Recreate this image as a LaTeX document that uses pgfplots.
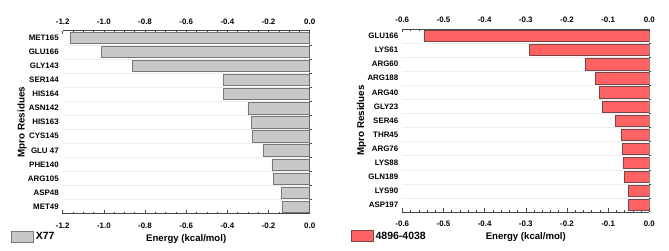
\documentclass[border=0pt]{standalone}
\usepackage{fontspec}
\setmainfont{Liberation Sans}
\usepackage{pgfplots}
\pgfplotsset{compat=1.18}
\definecolor{graybar}{RGB}{200,200,200}
\definecolor{grayedge}{RGB}{120,120,120}
\definecolor{redbar}{RGB}{255,98,98}
\definecolor{rededge}{RGB}{120,70,70}
\definecolor{axcol}{RGB}{70,70,70}
\pgfplotsset{
  panel/.style={
    scale only axis, width=247pt, height=183pt,
    xbar, bar width=0.8, bar shift=0pt,
    y dir=reverse, ymin=0.5, ymax=13.5,
    ytick={1,...,13},
    separate axis lines,
    x axis line style={axcol, line width=0.7pt},
    y axis line style={draw=none},
    xtick align=inside,
    xtick pos=both,
    xticklabel pos=lower,
    ytick pos=right,
    yticklabel pos=left,
    ytick align=outside,
    major y tick style={draw=none},
    minor ytick={1.5,2.5,...,12.5},
    minor y tick style={axcol, line width=0.5pt},
    minor y grid style={black!7},
    yminorgrids=true,
    x tick style={axcol, line width=0.5pt},
    major tick length=3.5pt, minor tick length=2pt,
    tick label style={font=\bfseries\fontsize{7.9}{9}\selectfont},
    xticklabel style={yshift=-5.5pt, /pgf/number format/fixed, /pgf/number format/fixed zerofill, /pgf/number format/precision=1},
    yticklabel style={xshift=3pt},
    /pgf/number format/assume math mode=true,
    xlabel style={at={(axis description cs:0.5,-0.138)}, anchor=center, font=\bfseries\fontsize{9.6}{11}\selectfont},
    ylabel style={at={(axis description cs:-0.1644,0.5)}, anchor=center, font=\bfseries\fontsize{9.8}{11}\selectfont},
    xlabel={Energy (kcal/mol)},
    ylabel={Mpro Residues},
    legend style={draw=none, fill=none, inner sep=0pt, anchor=west, font=\bfseries\fontsize{10.5}{12}\selectfont},
  },
  toplabels/.style={
    scale only axis, width=247pt, height=183pt,
    ymin=0, ymax=1, hide y axis,
    axis x line*=top,
    axis line style={draw=none},
    xtick style={draw=none},
    tick label style={font=\bfseries\fontsize{7.9}{9}\selectfont},
    xticklabel style={yshift=2.5pt, /pgf/number format/fixed, /pgf/number format/fixed zerofill, /pgf/number format/precision=1},
    /pgf/number format/assume math mode=true,
  }
}
\begin{document}
\begin{tikzpicture}
\useasboundingbox (0,0) rectangle (669pt,251pt);
% ---------- left panel ----------
\begin{axis}[panel,
  at={(62.7pt,37.3pt)}, anchor=south west,
  xmin=-1.2, xmax=0,
  xtick={-1.2,-1,-0.8,-0.6,-0.4,-0.2,0},
  minor x tick num=3,
  yticklabels={MET165,GLU166,GLY143,SER144,HIS164,ASN142,HIS163,CYS145,GLU 47,PHE140,ARG105,ASP48,MET49},
  legend style={at={(axis description cs:-0.209,-0.1246)}},
]
\addplot[fill=graybar, draw=grayedge, line width=0.5pt,
  legend image code/.code={\draw[fill=graybar, draw=grayedge, line width=0.5pt] (0pt,-5.5pt) rectangle (22pt,5.5pt);}]
  coordinates {(-1.165,1) (-1.013,2) (-0.860,3) (-0.422,4) (-0.420,5) (-0.300,6) (-0.284,7) (-0.279,8) (-0.227,9) (-0.184,10) (-0.177,11) (-0.139,12) (-0.135,13)};
\addlegendentry{X77}
\draw[axcol, line width=0.7pt] (axis description cs:1,0) -- (axis description cs:1,1);
\end{axis}
\begin{axis}[toplabels,
  at={(62.7pt,37.3pt)}, anchor=south west,
  xmin=-1.2, xmax=0,
  xtick={-1.2,-1,-0.8,-0.6,-0.4,-0.2,0},
]
\addplot[draw=none] coordinates {(0,0)};
\end{axis}
% ---------- right panel ----------
\begin{axis}[panel,
  at={(402.3pt,39pt)}, anchor=south west,
  xmin=-0.6, xmax=0,
  xtick={-0.6,-0.5,-0.4,-0.3,-0.2,-0.1,0},
  minor x tick num=4,
  yticklabels={GLU166,LYS61,ARG60,ARG188,ARG40,GLY23,SER46,THR45,ARG76,LYS88,GLN189,LYS90,ASP197},
  legend style={at={(axis description cs:-0.208,-0.1325)}},
]
\addplot[fill=redbar, draw=rededge, line width=0.5pt,
  legend image code/.code={\draw[fill=redbar, draw=rededge, line width=0.5pt] (0pt,-5.5pt) rectangle (22pt,5.5pt);}]
  coordinates {(-0.547,1) (-0.291,2) (-0.156,3) (-0.131,4) (-0.122,5) (-0.114,6) (-0.082,7) (-0.068,8) (-0.066,9) (-0.064,10) (-0.061,11) (-0.051,12) (-0.051,13)};
\addlegendentry{4896-4038}
\draw[axcol, line width=0.7pt] (axis description cs:1,0) -- (axis description cs:1,1);
\end{axis}
\begin{axis}[toplabels,
  at={(402.3pt,39pt)}, anchor=south west,
  xmin=-0.6, xmax=0,
  xtick={-0.6,-0.5,-0.4,-0.3,-0.2,-0.1,0},
]
\addplot[draw=none] coordinates {(0,0)};
\end{axis}
\end{tikzpicture}
\end{document}
